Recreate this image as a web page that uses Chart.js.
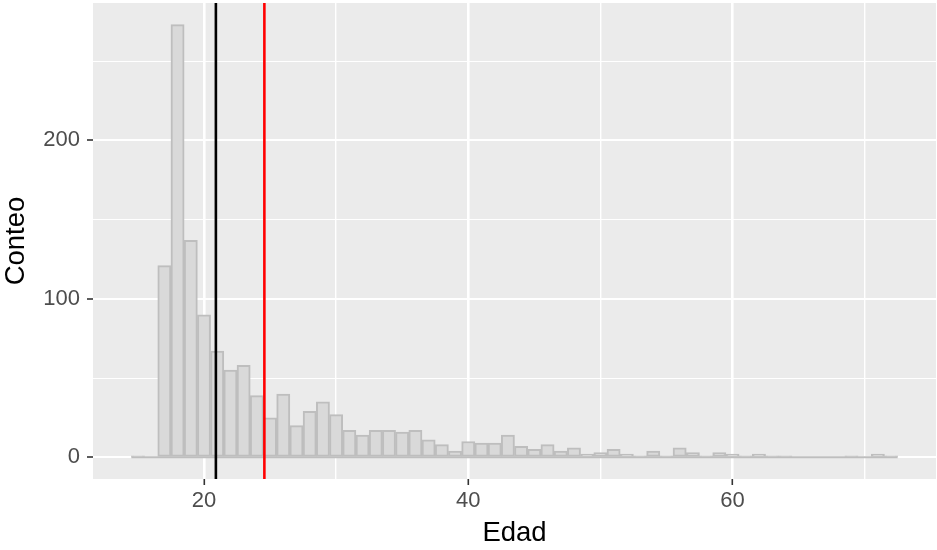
<!DOCTYPE html>
<html>
<head>
<meta charset="utf-8">
<script src="https://cdn.jsdelivr.net/npm/chart.js@4/dist/chart.umd.min.js"></script>
<style>
  html, body { margin: 0; padding: 0; background: #fff; }
  #wrap { width: 937px; height: 550px; }
</style>
</head>
<body>
<div id="wrap"><canvas id="histo"></canvas></div>
<script>
// histogram bins (width 1, centred on each age)
const edades = [15, 16, 17, 18, 19, 20, 21, 22, 23, 24, 25, 26, 27, 28, 29, 30,
  31, 32, 33, 34, 35, 36, 37, 38, 39, 40, 41, 42, 43, 44, 45, 46, 47, 48, 49, 50,
  51, 52, 53, 54, 55, 56, 57, 58, 59, 60, 61, 62, 63, 64, 65, 66, 67, 68, 69, 70, 71, 72];
const conteos = [1, 0, 121, 273, 137, 90, 67, 55, 58, 39, 25, 40, 20, 29, 35, 27,
  17, 14, 17, 17, 16, 17, 11, 8, 4, 10, 9, 9, 14, 7, 5, 8, 4, 6, 2, 3,
  5, 2, 1, 4, 1, 6, 3, 1, 3, 2, 1, 2, 1, 1, 0, 0, 0, 0, 1, 0, 2, 1];

const mediana = 20.9;   // black line
const media = 24.57;    // red line

const ticksX = [20, 40, 60];
const menoresX = [30, 50, 70];
const ticksY = [0, 100, 200];
const menoresY = [50, 150, 250];

const ancho = 1;
const xIni = edades[0] - ancho / 2;
const xFin = edades[edades.length - 1] + ancho / 2;
const xMin = xIni - 0.05 * (xFin - xIni);
const xMax = xFin + 0.05 * (xFin - xIni);
const yTop = Math.max(...conteos);
const yMin = -0.05 * yTop;
const yMax = yTop * 1.05;

const barras = edades.map((e, i) => ({ x: e, y: conteos[i] }));

const panel = {
  id: 'panel',
  beforeDraw(chart) {
    const { ctx, chartArea: a } = chart;
    ctx.save();
    ctx.fillStyle = '#EBEBEB';
    ctx.fillRect(a.left, a.top, a.right - a.left, a.bottom - a.top);
    ctx.restore();
  }
};

const sinPadding = (s) => {
  s.paddingTop = 0;
  s.paddingBottom = 0;
  s.paddingLeft = 0;
  s.paddingRight = 0;
};

const fuente = 'Liberation Sans, Arial, sans-serif';

new Chart(document.getElementById('histo'), {
  type: 'bar',
  data: {
    datasets: [
      {
        type: 'line',
        data: [{ x: mediana, y: yMin }, { x: mediana, y: yMax }],
        borderColor: '#000000',
        borderWidth: 2.6,
        pointRadius: 0,
        order: 0
      },
      {
        type: 'line',
        data: [{ x: media, y: yMin }, { x: media, y: yMax }],
        borderColor: '#FF0000',
        borderWidth: 2.6,
        pointRadius: 0,
        order: 0
      },
      {
        type: 'line',
        data: [{ x: xIni, y: 0 }, { x: xFin, y: 0 }],
        borderColor: '#BEBEBE',
        borderWidth: 2,
        pointRadius: 0,
        order: 1
      },
      {
        data: barras,
        backgroundColor: '#D9D9D9',
        borderColor: '#BEBEBE',
        borderWidth: 2,
        borderSkipped: false,
        barPercentage: 1,
        categoryPercentage: 1,
        order: 2
      }
    ]
  },
  options: {
    responsive: true,
    maintainAspectRatio: false,
    animation: false,
    layout: { padding: { top: 3, right: 1, left: 0, bottom: 0 } },
    plugins: {
      legend: { display: false },
      tooltip: { enabled: false }
    },
    scales: {
      x: {
        type: 'linear',
        min: xMin,
        max: xMax,
        offset: false,
        afterFit: (s) => { s.height = 71; sinPadding(s); },
        afterBuildTicks: (s) => {
          s.ticks = [...ticksX, ...menoresX].sort((a, b) => a - b).map((v) => ({ value: v }));
        },
        border: { display: false },
        grid: {
          offset: false,
          color: '#FFFFFF',
          lineWidth: (c) => (ticksX.includes(c.tick.value) ? 2.6 : 1.4),
          tickColor: (c) => (ticksX.includes(c.tick.value) ? '#333333' : 'rgba(0,0,0,0)'),
          tickLength: 6,
          tickWidth: 1.6
        },
        ticks: {
          autoSkip: false,
          maxRotation: 0,
          padding: 3,
          color: '#4D4D4D',
          font: { family: fuente, size: 22 },
          callback: (v) => (ticksX.includes(v) ? String(v) : '')
        },
        title: {
          display: true,
          text: 'Edad',
          color: '#000000',
          font: { family: fuente, size: 27.5 },
          padding: { top: 0, bottom: 0 }
        }
      },
      y: {
        min: yMin,
        max: yMax,
        afterFit: (s) => { s.width = 93; sinPadding(s); },
        afterBuildTicks: (s) => {
          s.ticks = [...ticksY, ...menoresY].sort((a, b) => a - b).map((v) => ({ value: v }));
        },
        border: { display: false },
        grid: {
          color: '#FFFFFF',
          lineWidth: (c) => (ticksY.includes(c.tick.value) ? 2 : 1.1),
          tickColor: (c) => (ticksY.includes(c.tick.value) ? '#333333' : 'rgba(0,0,0,0)'),
          tickLength: 6,
          tickWidth: 1.6
        },
        ticks: {
          autoSkip: false,
          padding: 7,
          color: '#4D4D4D',
          font: { family: fuente, size: 22 },
          callback: (v) => (ticksY.includes(v) ? String(v) : '')
        },
        title: {
          display: true,
          text: 'Conteo',
          color: '#000000',
          font: { family: fuente, size: 27.5 },
          padding: { top: 0, bottom: 0 }
        }
      }
    }
  },
  plugins: [panel]
});
</script>
</body>
</html>
